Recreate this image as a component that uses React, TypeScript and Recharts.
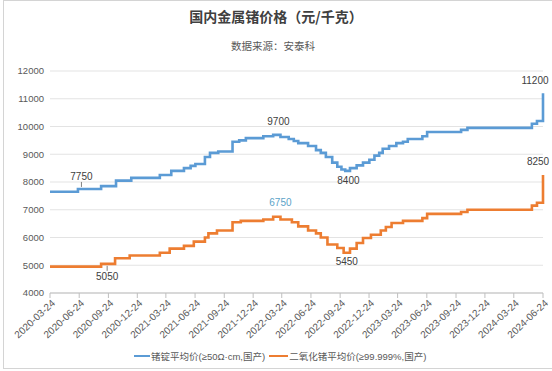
import React from 'react';
import { LineChart, Line, XAxis, YAxis, CartesianGrid, ReferenceDot } from 'recharts';

// 锗锭 (blue) step changes
const blueDates = [
  '2020-03-24', '2020-06-20', '2020-09-01', '2020-10-18', '2020-12-05', '2021-03-05', '2021-04-10',
  '2021-05-20', '2021-06-10', '2021-06-25', '2021-07-25', '2021-08-10', '2021-09-05', '2021-10-20',
  '2021-11-10', '2021-12-01', '2022-01-25', '2022-02-25', '2022-03-20', '2022-04-15', '2022-05-01',
  '2022-05-15', '2022-06-15', '2022-07-10', '2022-07-25', '2022-08-10', '2022-08-30', '2022-09-15',
  '2022-09-28', '2022-10-10', '2022-10-25', '2022-11-15', '2022-12-05', '2022-12-25', '2023-01-10',
  '2023-01-25', '2023-02-05', '2023-02-25', '2023-03-20', '2023-04-10', '2023-04-25', '2023-06-10',
  '2023-06-25', '2023-10-10', '2023-10-30', '2024-05-20', '2024-06-05', '2024-06-24',
];
const blueValues = [
  7650, 7750, 7850, 8050, 8150, 8250, 8400,
  8500, 8580, 8650, 8900, 9050, 9100, 9450,
  9500, 9580, 9650, 9700, 9620, 9550, 9480,
  9400, 9300, 9150, 9050, 8900, 8700, 8550,
  8450, 8400, 8500, 8600, 8700, 8800, 8950,
  9050, 9200, 9300, 9400, 9450, 9550, 9650,
  9800, 9880, 9950, 10100, 10200, 11200,
];

// 二氧化锗 (orange) step changes
const orangeDates = [
  '2020-03-24', '2020-09-01', '2020-10-15', '2020-11-30', '2021-03-05', '2021-04-05', '2021-05-20',
  '2021-06-20', '2021-07-25', '2021-08-05', '2021-09-01', '2021-10-20', '2021-11-15', '2022-01-25',
  '2022-02-25', '2022-03-20', '2022-04-25', '2022-05-15', '2022-06-15', '2022-07-10', '2022-07-25',
  '2022-08-15', '2022-09-15', '2022-10-05', '2022-10-25', '2022-11-15', '2022-12-05', '2022-12-30',
  '2023-01-30', '2023-02-15', '2023-03-05', '2023-04-10', '2023-06-10', '2023-06-25', '2023-10-10',
  '2023-10-30', '2024-05-20', '2024-06-05', '2024-06-24',
];
const orangeValues = [
  4950, 5050, 5250, 5350, 5450, 5600, 5700,
  5850, 6000, 6150, 6250, 6550, 6600, 6650,
  6750, 6650, 6550, 6400, 6250, 6150, 6000,
  5750, 5620, 5450, 5600, 5800, 5980, 6100,
  6250, 6380, 6520, 6600, 6700, 6850, 6920,
  7000, 7150, 7250, 8250,
];

const tickLabels = [
  '2020-03-24', '2020-06-24', '2020-09-24', '2020-12-24', '2021-03-24', '2021-06-24',
  '2021-09-24', '2021-12-24', '2022-03-24', '2022-06-24', '2022-09-24', '2022-12-24',
  '2023-03-24', '2023-06-24', '2023-09-24', '2023-12-24', '2024-03-24', '2024-06-24',
];
const yTicks = [4000, 5000, 6000, 7000, 8000, 9000, 10000, 11000, 12000];

// annotated points
const annDates = ['2020-07-01', '2022-03-01', '2022-10-20', '2024-06-24', '2022-03-01', '2022-10-15', '2020-09-20', '2024-06-24'];
const annValues = [7750, 9700, 8400, 11200, 6750, 5450, 5050, 8250];

const BLUE = '#5b9bd5';
const ORANGE = '#ed7d31';
const FONT = '"Liberation Sans", "Noto Sans CJK SC", sans-serif';

const toDay = (s: string) => {
  const [y, m, d] = s.split('-').map(Number);
  return (Date.UTC(y, m - 1, d) - Date.UTC(2020, 2, 24)) / 86400000;
};
const dayToLabel: Record<number, string> = {};
tickLabels.forEach(t => { dayToLabel[toDay(t)] = t; });
const tickDays = tickLabels.map(toDay);

const blueData = blueDates.map((d, i) => ({ day: toDay(d), value: blueValues[i] }));
const orangeData = orangeDates.map((d, i) => ({ day: toDay(d), value: orangeValues[i] }));

const annStyle = [
  { dx: 0, dy: -12, lead: true, color: '#404040' },
  { dx: 4, dy: -13, lead: false, color: '#404040' },
  { dx: 0, dy: 10, lead: false, color: '#404040' },
  { dx: -8, dy: -13, lead: false, color: '#404040' },
  { dx: 6, dy: -14, lead: false, color: '#5ba3c8' },
  { dx: 0, dy: 9, lead: false, color: '#404040' },
  { dx: 0, dy: 13, lead: true, color: '#404040' },
  { dx: -5, dy: -14, lead: false, color: '#404040' },
];

const XTick = (props: any) => {
  const { x, y, payload } = props;
  return (
    <g transform={`translate(${x + 3},${y + 1})`}>
      <text textAnchor="end" transform="rotate(-43)" fontSize={10} fill="#595959" fontFamily={FONT} dy={4}>
        {dayToLabel[payload.value] ?? ''}
      </text>
    </g>
  );
};

const App = () => {
  return (
    <div style={{ position: 'absolute', left: 0, top: 0, width: 552, height: 371, background: '#fff', overflow: 'hidden' }}>
      <div style={{ position: 'absolute', left: 3, top: 0, width: 560, height: 367, border: '1px solid #d4d4d4' }} />
      <div style={{ position: 'absolute', top: 6, width: 552, textAlign: 'center', fontFamily: '"Noto Sans CJK SC", sans-serif', fontWeight: 700, fontSize: 14, color: '#404040' }}>
        国内金属锗价格（元/千克）
      </div>
      <div style={{ position: 'absolute', top: 38, width: 546, textAlign: 'center', fontFamily: '"Noto Sans CJK SC", sans-serif', fontSize: 10.5, color: '#595959' }}>
        数据来源：安泰科
      </div>
      <LineChart width={552} height={371} data={blueData} margin={{ top: 71, right: 9, bottom: 28, left: 0 }} style={{ position: 'absolute', left: 0, top: 0 }}>
        <CartesianGrid vertical={false} stroke="#e3e3e3" />
        <XAxis
          type="number"
          dataKey="day"
          domain={[0, toDay('2024-06-24')]}
          ticks={tickDays}
          interval={0}
          height={50}
          stroke="#bfbfbf"
          tickSize={5}
          tick={<XTick />}
        />
        <YAxis
          domain={[4000, 12000]}
          ticks={yTicks}
          width={50}
          axisLine={false}
          tickLine={false}
          tickSize={0}
          tickMargin={6}
          tick={{ fontSize: 9.5, fill: '#595959', fontFamily: FONT }}
        />
        <Line data={blueData} dataKey="value" type="stepAfter" stroke={BLUE} strokeWidth={2.6} dot={false} isAnimationActive={false} />
        <Line data={orangeData} dataKey="value" type="stepAfter" stroke={ORANGE} strokeWidth={2.6} dot={false} isAnimationActive={false} />
        {annDates.map((d, i) => (
          <ReferenceDot
            key={i}
            x={toDay(d)}
            y={annValues[i]}
            r={0}
            ifOverflow="visible"
            shape={(p: any) => {
              const s = annStyle[i];
              const below = s.dy > 0;
              return (
                <g>
                  {s.lead && (
                    <line x1={p.cx} x2={p.cx} y1={p.cy + (below ? 2 : -2)} y2={p.cy + (below ? 7 : -7)} stroke="#808080" strokeWidth={1} />
                  )}
                  <text x={p.cx + s.dx} y={p.cy + s.dy + 3.5} textAnchor="middle" fontSize={10} fill={s.color} fontFamily={FONT}>
                    {annValues[i]}
                  </text>
                </g>
              );
            }}
          />
        ))}
      </LineChart>
      <div style={{ position: 'absolute', top: 349, left: 134, display: 'flex', alignItems: 'center', fontFamily: FONT, fontSize: 9.5, color: '#595959', whiteSpace: 'nowrap' }}>
        <span style={{ display: 'inline-block', width: 16, height: 2.5, background: BLUE, marginRight: 1 }} />
        <span>锗锭平均价(≥50Ω·cm,国产)</span>
        <span style={{ display: 'inline-block', width: 19, height: 2.5, background: ORANGE, margin: '0 1px 0 4px' }} />
        <span>二氧化锗平均价(≥99.999%,国产)</span>
      </div>
    </div>
  );
};

export default App;
